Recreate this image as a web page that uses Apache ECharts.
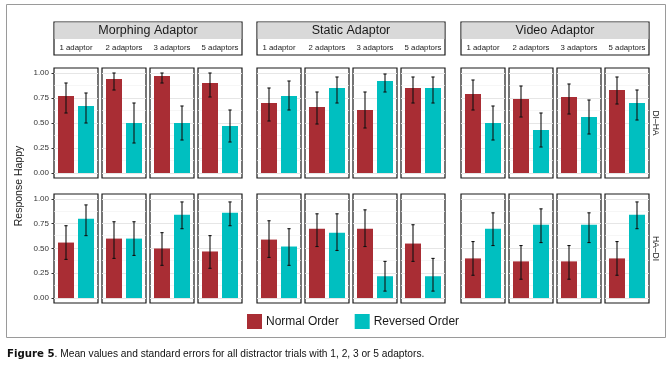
<!DOCTYPE html>
<html>
<head>
<meta charset="utf-8">
<script src="https://cdn.jsdelivr.net/npm/echarts@6/dist/echarts.min.js"></script>
<style>
html,body{margin:0;padding:0;background:#fff;}
#chart{width:672px;height:366px;}
</style>
</head>
<body>
<div id="chart"></div>
<script>
// ---------- data ----------
const groups = ['Morphing Adaptor', 'Static Adaptor', 'Video Adaptor'];
const adaptors = ['1 adaptor', '2 adaptors', '3 adaptors', '5 adaptors'];
const rowLabels = ['DI\u2013HA', 'HA\u2013DI'];
const seriesNames = ['Normal Order', 'Reversed Order'];
const yTicks = [0, 0.25, 0.5, 0.75, 1];
const gridValues = [0, 0.125, 0.25, 0.375, 0.5, 0.625, 0.75, 0.875, 1];

// DI–HA row: 12 panels (Morphing 1,2,3,5 | Static 1,2,3,5 | Video 1,2,3,5)
const diHaNormal    = [0.77, 0.94, 0.97, 0.90, 0.70, 0.66, 0.63, 0.85, 0.79, 0.74, 0.76, 0.83];
const diHaNormalLo  = [0.60, 0.83, 0.90, 0.76, 0.52, 0.49, 0.45, 0.70, 0.63, 0.56, 0.59, 0.69];
const diHaNormalHi  = [0.90, 1.00, 1.00, 1.00, 0.85, 0.81, 0.81, 0.96, 0.93, 0.87, 0.89, 0.96];
const diHaReversed  = [0.67, 0.50, 0.50, 0.47, 0.77, 0.85, 0.92, 0.85, 0.50, 0.43, 0.56, 0.70];
const diHaReversedLo= [0.50, 0.30, 0.33, 0.31, 0.63, 0.70, 0.81, 0.70, 0.33, 0.26, 0.39, 0.53];
const diHaReversedHi= [0.80, 0.70, 0.67, 0.63, 0.92, 0.96, 0.99, 0.96, 0.67, 0.60, 0.73, 0.83];

// HA–DI row
const haDiNormal    = [0.56, 0.60, 0.50, 0.47, 0.59, 0.70, 0.70, 0.55, 0.40, 0.37, 0.37, 0.40];
const haDiNormalLo  = [0.39, 0.40, 0.33, 0.30, 0.41, 0.52, 0.52, 0.37, 0.23, 0.19, 0.19, 0.23];
const haDiNormalHi  = [0.73, 0.77, 0.66, 0.63, 0.78, 0.85, 0.89, 0.74, 0.57, 0.53, 0.53, 0.57];
const haDiReversed  = [0.80, 0.60, 0.84, 0.86, 0.52, 0.66, 0.22, 0.22, 0.70, 0.74, 0.74, 0.84];
const haDiReversedLo= [0.63, 0.43, 0.70, 0.73, 0.33, 0.48, 0.07, 0.07, 0.53, 0.56, 0.56, 0.70];
const haDiReversedHi= [0.94, 0.77, 0.97, 0.97, 0.70, 0.85, 0.37, 0.40, 0.86, 0.90, 0.86, 0.97];

const rowsData = [
  {n: diHaNormal, nLo: diHaNormalLo, nHi: diHaNormalHi, r: diHaReversed, rLo: diHaReversedLo, rHi: diHaReversedHi},
  {n: haDiNormal, nLo: haDiNormalLo, nHi: haDiNormalHi, r: haDiReversed, rLo: haDiReversedLo, rHi: haDiReversedHi}
];

// ---------- layout / style ----------
const RED = '#A92D34', TEAL = '#00BFC0';
const groupLeft = [54, 257, 461];
const panelW = 44, panelStep = 48, groupW = 188;
const rowTop = [68, 194], rowH = [110, 109];
const FONT = '"Liberation Sans", Arial, sans-serif';

const grid = [], xAxis = [], yAxis = [], series = [], graphic = [];

function errRender(params, api) {
  const x = api.value(0), lo = api.value(1), hi = api.value(2);
  const p1 = api.coord([x, lo]), p2 = api.coord([x, hi]);
  const cap = 1.6;
  const st = {stroke: '#111', lineWidth: 1.1};
  return {type: 'group', children: [
    {type: 'line', shape: {x1: p1[0], y1: p1[1], x2: p2[0], y2: p2[1]}, style: st},
    {type: 'line', shape: {x1: p1[0]-cap, y1: p1[1], x2: p1[0]+cap, y2: p1[1]}, style: st},
    {type: 'line', shape: {x1: p2[0]-cap, y1: p2[1], x2: p2[0]+cap, y2: p2[1]}, style: st}
  ]};
}

let idx = 0;
for (let r = 0; r < 2; r++) {
  const d = rowsData[r];
  for (let g = 0; g < 3; g++) {
    for (let k = 0; k < 4; k++) {
      const i = g * 4 + k;
      const first = (g === 0 && k === 0);
      grid.push({
        left: groupLeft[g] + k * panelStep, top: rowTop[r], width: panelW, height: rowH[r],
        show: true, backgroundColor: '#fff', borderColor: '#1a1a1a', borderWidth: 1.2, z: 0
      });
      xAxis.push({gridIndex: idx, type: 'value', min: 0.4, max: 2.6, show: false});
      yAxis.push({
        gridIndex: idx, type: 'value', min: -0.05, max: 1.05,
        axisLine: {show: false},
        splitLine: {show: false},
        axisTick: {show: first, customValues: yTicks, length: 2.5, lineStyle: {color: '#333', width: 1}},
        axisLabel: {show: first, customValues: yTicks, margin: 5, fontSize: 8, color: '#333', fontFamily: FONT,
          formatter: v => v.toFixed(2)}
      });
      series.push({
        name: seriesNames[0], type: 'bar', xAxisIndex: idx, yAxisIndex: idx,
        data: [[1, d.n[i]]], barWidth: 16, barGap: '-100%', itemStyle: {color: RED}, z: 2,
        markLine: {
          silent: true, symbol: 'none', z: 1, animation: false,
          label: {show: false},
          lineStyle: {color: '#EBEBEB', width: 1, type: 'solid'},
          data: gridValues.map((v, j) => ({yAxis: v, lineStyle: {color: j % 2 === 0 ? '#E6E6E6' : '#F2F2F2', width: j % 2 === 0 ? 1 : 0.7, type: 'solid'}}))
        }
      });
      series.push({
        name: seriesNames[1], type: 'bar', xAxisIndex: idx, yAxisIndex: idx,
        data: [[2, d.r[i]]], barWidth: 16, barGap: '-100%', itemStyle: {color: TEAL}, z: 2
      });
      series.push({
        type: 'custom', xAxisIndex: idx, yAxisIndex: idx, z: 3, silent: true,
        renderItem: errRender, encode: {x: 0, y: [1, 2]},
        data: [[1, d.nLo[i], d.nHi[i]], [2, d.rLo[i], d.rHi[i]]]
      });
      idx++;
    }
  }
}

// strip headers
for (let g = 0; g < 3; g++) {
  const x0 = groupLeft[g];
  graphic.push({type: 'rect', shape: {x: x0, y: 22, width: groupW, height: 33},
    style: {fill: '#fff', stroke: '#1a1a1a', lineWidth: 1.2}, z: 10});
  graphic.push({type: 'rect', shape: {x: x0 + 0.6, y: 22.6, width: groupW - 1.2, height: 16.5},
    style: {fill: '#D9D9D9'}, z: 11});
  graphic.push({type: 'text', x: x0 + groupW / 2, y: 31, z: 12,
    style: {text: groups[g], fontSize: 12.5, fontFamily: FONT, fill: '#1a1a1a', textAlign: 'center', textVerticalAlign: 'middle'}});
  for (let k = 0; k < 4; k++) {
    graphic.push({type: 'text', x: x0 + k * panelStep + panelW / 2, y: 47.5, z: 12,
      style: {text: adaptors[k], fontSize: 7.8, fontFamily: FONT, fill: '#1a1a1a', textAlign: 'center', textVerticalAlign: 'middle'}});
  }
}
// row strip labels (right)
for (let r = 0; r < 2; r++) {
  graphic.push({type: 'text', x: 655, y: rowTop[r] + rowH[r] / 2, rotation: -Math.PI / 2, z: 12,
    style: {text: rowLabels[r], fontSize: 8.5, fontFamily: FONT, fill: '#1a1a1a', textAlign: 'center', textVerticalAlign: 'middle'}});
}
// y-axis title
graphic.push({type: 'text', x: 19, y: 186, rotation: Math.PI / 2, z: 12,
  style: {text: 'Response Happy', fontSize: 10.5, fontFamily: FONT, fill: '#1a1a1a', textAlign: 'center', textVerticalAlign: 'middle'}});
// outer frame
graphic.push({type: 'rect', shape: {x: 6.5, y: 4.5, width: 659, height: 333},
  style: {fill: 'none', stroke: '#9a9a9a', lineWidth: 1}, z: 0});
// caption
graphic.push({type: 'text', x: 7, y: 354, z: 12,
  style: {text: '{b|Figure 5}. Mean values and standard errors for all distractor trials with 1, 2, 3 or 5 adaptors.',
    fontSize: 10.2, fontFamily: FONT, fill: '#111', textVerticalAlign: 'middle',
    rich: {b: {fontWeight: 'bold', fontSize: 10.2, fontFamily: '"DejaVu Sans", ' + FONT, fill: '#111'}}}});

const chart = echarts.init(document.getElementById('chart'), null, {renderer: 'canvas'});
chart.setOption({
  animation: false,
  backgroundColor: '#fff',
  grid, xAxis, yAxis, series, graphic,
  legend: {
    data: seriesNames, left: 247, top: 314, itemWidth: 15, itemHeight: 15, itemGap: 16, icon: 'rect',
    padding: 0, selectedMode: false,
    textStyle: {fontSize: 12, fontFamily: FONT, color: '#1a1a1a', padding: [0, 0, 0, -1]}
  }
});
</script>
</body>
</html>
